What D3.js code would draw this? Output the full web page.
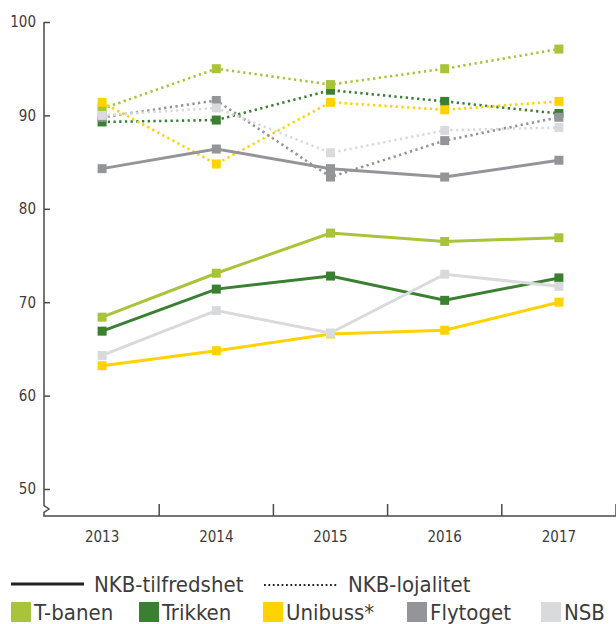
<!DOCTYPE html>
<meta charset="utf-8">
<script src="https://d3js.org/d3.v7.min.js"></script>
<style>
  body { margin: 0; background: #fff; }
  text { font-family: "DejaVu Sans Condensed", "Liberation Sans Narrow", sans-serif; font-stretch: condensed; fill: #3c3c3c; }
</style>
<svg id="chart" width="616" height="624"></svg>
<script>
    // Data
    var years = ["2013", "2014", "2015", "2016", "2017"];
    var yTicks = [50, 60, 70, 80, 90, 100];
    var operators = ["T-banen", "Trikken", "Unibuss*", "Flytoget", "NSB"];
    var colors = ["#a7c43a", "#3a7f32", "#ffd200", "#939598", "#d9dadb"];

    // NKB-tilfredshet (solid)
    var tbanenTilfreds = [68.4, 73.1, 77.4, 76.5, 76.9];
    var trikkenTilfreds = [66.9, 71.4, 72.8, 70.2, 72.6];
    var unibussTilfreds = [63.2, 64.8, 66.6, 67.0, 70.0];
    var flytogetTilfreds = [84.3, 86.4, 84.3, 83.4, 85.2];
    var nsbTilfreds = [64.3, 69.1, 66.7, 73.0, 71.7];

    // NKB-lojalitet (dotted)
    var tbanenLojal = [90.7, 95.0, 93.3, 95.0, 97.1];
    var trikkenLojal = [89.3, 89.5, 92.7, 91.5, 90.2];
    var unibussLojal = [91.4, 84.8, 91.4, 90.6, 91.5];
    var flytogetLojal = [89.8, 91.6, 83.4, 87.3, 89.8];
    var nsbLojal = [90.0, 90.8, 86.0, 88.4, 88.7];

    var tilfreds = [tbanenTilfreds, trikkenTilfreds, unibussTilfreds, flytogetTilfreds, nsbTilfreds];
    var lojal = [tbanenLojal, trikkenLojal, unibussLojal, flytogetLojal, nsbLojal];
    var drawOrder = [1, 0, 2, 3, 4];

    var svg = d3.select("#chart");

    var x = d3.scaleBand().domain(years).range([45, 616]);
    var y = d3.scaleLinear().domain([50, 100]).range([489, 22]);
    var axisY = 516;
    var axisColor = "#4a4a4a";

    // y axis
    var gy = svg.append("g").attr("transform", "translate(44,0)")
        .call(d3.axisLeft(y).tickValues(yTicks).tickSize(-6).tickPadding(8));
    gy.select(".domain").remove();
    gy.selectAll(".tick line").attr("stroke", axisColor).attr("stroke-width", 1.5);
    gy.selectAll(".tick text").style("font-size", "15px").attr("fill", "#3c3c3c");

    // y axis line with break
    svg.append("path")
        .attr("d", "M44," + y(100) + "V505.5L49,509L44,512.5V" + axisY + "H616")
        .attr("fill", "none").attr("stroke", axisColor).attr("stroke-width", 1.5);

    // x axis ticks at band edges
    svg.append("g").selectAll("line")
        .data(years)
        .join("line")
        .attr("x1", d => x(d) + x.bandwidth())
        .attr("x2", d => x(d) + x.bandwidth())
        .attr("y1", axisY - 12).attr("y2", axisY)
        .attr("stroke", axisColor).attr("stroke-width", 1.5);

    svg.append("g").selectAll("text")
        .data(years)
        .join("text")
        .attr("x", d => x(d) + x.bandwidth() / 2)
        .attr("y", 542)
        .attr("text-anchor", "middle")
        .style("font-size", "15px")
        .text(d => d);

    var line = d3.line()
        .x((d, i) => x(years[i]) + x.bandwidth() / 2)
        .y(d => y(d));

    var dash = "2.3 3.4";
    var sq = 9;

    function drawSeries(series, dotted) {
        drawOrder.forEach(function(k) {
            var g = svg.append("g");
            g.append("path")
                .datum(series[k])
                .attr("d", line)
                .attr("fill", "none")
                .attr("stroke", colors[k])
                .attr("stroke-width", dotted ? 2.6 : 3)
                .attr("stroke-dasharray", dotted ? dash : null);
            g.selectAll("rect")
                .data(series[k])
                .join("rect")
                .attr("x", (d, i) => x(years[i]) + x.bandwidth() / 2 - sq / 2)
                .attr("y", d => y(d) - sq / 2)
                .attr("width", sq).attr("height", sq)
                .attr("fill", colors[k]);
        });
    }

    drawSeries(lojal, true);
    drawSeries(tilfreds, false);

    // Legend
    var leg = svg.append("g");
    leg.append("line").attr("x1", 11).attr("x2", 84).attr("y1", 584).attr("y2", 584)
        .attr("stroke", "#222").attr("stroke-width", 3);
    leg.append("text").attr("x", 94).attr("y", 592).style("font-size", "22px").text("NKB-tilfredshet");
    leg.append("line").attr("x1", 264).attr("x2", 338).attr("y1", 585).attr("y2", 585)
        .attr("stroke", "#222").attr("stroke-width", 2.2).attr("stroke-dasharray", "1.8 2.6");
    leg.append("text").attr("x", 348).attr("y", 592).style("font-size", "22px").text("NKB-lojalitet");

    var legX = [11, 139, 263, 407, 541];
    operators.forEach(function(name, i) {
        leg.append("rect").attr("x", legX[i]).attr("y", 602).attr("width", 20).attr("height", 20)
            .attr("fill", colors[i]);
        leg.append("text").attr("x", legX[i] + 23).attr("y", 620).style("font-size", "22px").text(name);
    });
</script>
